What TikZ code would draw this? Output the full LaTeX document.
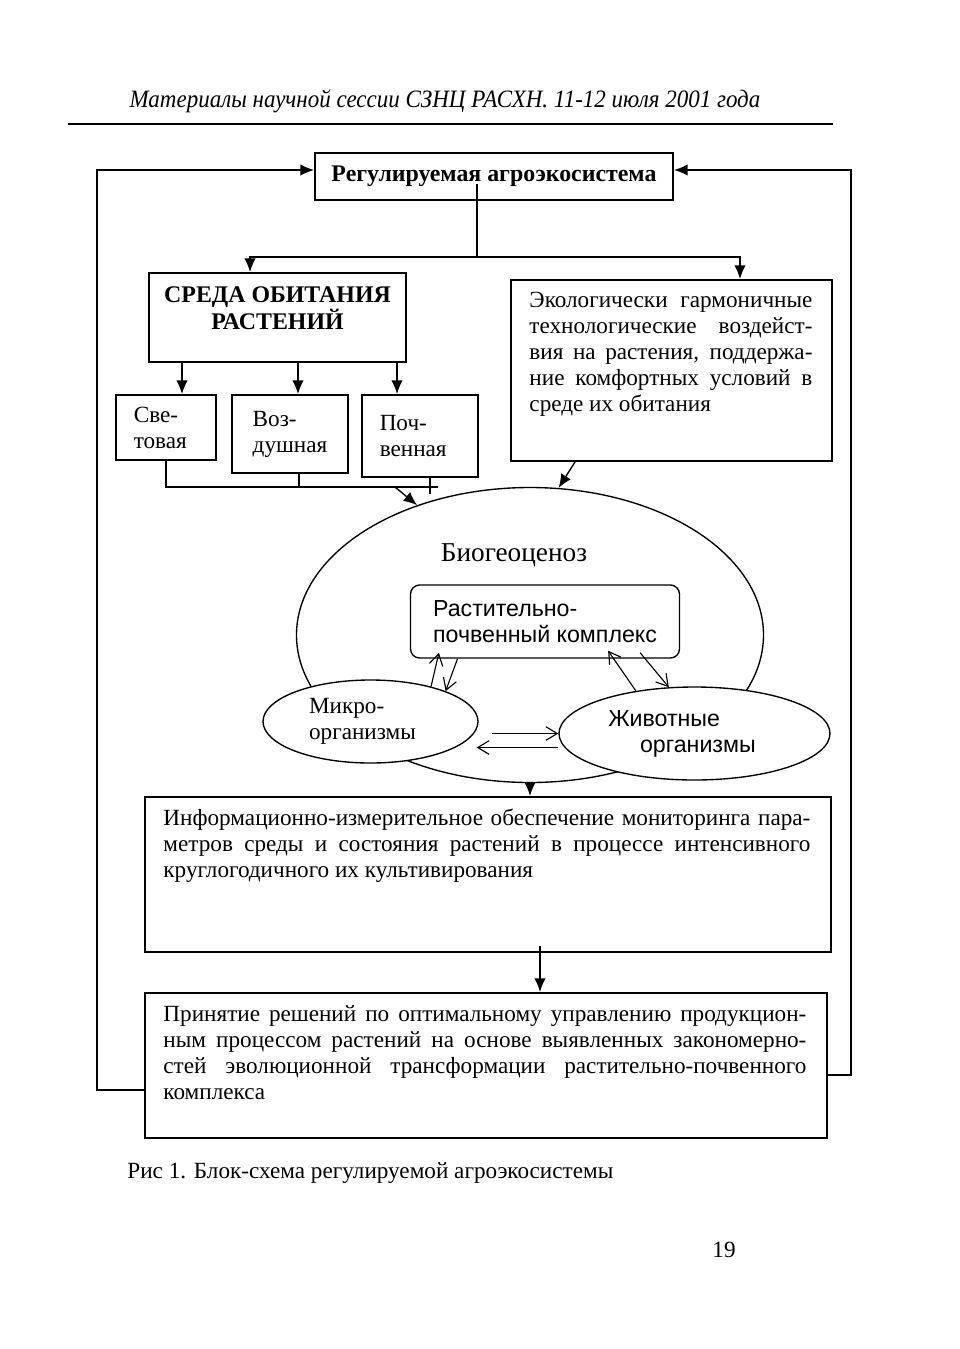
\documentclass[tikz,border=0pt]{standalone}
\usepackage{fontspec}
\usepackage{graphicx}
\setmainfont{Liberation Serif}
\newfontfamily\arialfont{Liberation Sans}
\usetikzlibrary{positioning,shapes.geometric,arrows.meta}

\newcommand{\basefont}{\fontsize{10.2}{11.44}\selectfont}

\tikzset{
  wh/.style 2 args={minimum width=#1*0.44pt,minimum height=#2*0.44pt},
  box/.style={draw,line width=0.9pt,inner sep=0pt,font=\basefont},
  txt/.style={anchor=base west,inner sep=0pt,align=justify,font=\basefont},
  oval/.style={draw,ellipse,line width=0.6pt,inner sep=0pt},
  arr/.style={line width=0.6pt,-{Latex[length=6pt,width=5pt]}},
  barb/.style={line width=0.5pt,-{Straight Barb[length=5pt,width=6pt]}},
}

\begin{document}
\begin{tikzpicture}[x=0.44pt,y=-0.44pt]
\useasboundingbox (0,0) rectangle (959,1349);

% page header
\node[font=\fontsize{11}{13}\selectfont\itshape] (head) at (445,101) {\scalebox{0.92}[1]{Материалы научной сессии СЗНЦ РАСХН. 11-12 июля 2001 года}};
\draw[line width=0.8pt] (68,124) -- (833,124);

% top of the scheme
\node[box,wh={358}{47},font=\fontsize{10.5}{12}\selectfont\bfseries] (agro) at (494,176.5) {Регулируемая агроэкосистема};
\node[box,wh={257}{89},align=center,font=\fontsize{10.5}{12}\selectfont\bfseries] (sreda) at (277.5,317.5) {СРЕДА ОБИТАНИЯ\\РАСТЕНИЙ\rule[-8pt]{0pt}{1pt}};
\node[box,wh={100}{65},align=left] (svet) at (166,427.5) {Све-\\товая\hspace*{5pt}};
\node[box,wh={116}{78},align=left] (vozd) at (290,434) {Воз-\\душная};
\node[box,wh={116}{82},align=left] (pochv) at (420,436) {Поч-\\венная\hspace*{6pt}};

\node[box,wh={321}{181}] (eco) at (671.5,370.5) {};
\node[txt,text width=283*0.44pt] (ecotext) at (529,307) {%
Экологически гармоничные\linebreak
технологические воздейст-\linebreak
вия на растения, поддержа-\linebreak
ние комфортных условий в\linebreak
среде их обитания};

% biogeocenosis
\node[oval,wh={467}{295}] (bio) at (530,635) {};
\node[font=\fontsize{12}{14}\selectfont] (biotext) at (514,555) {Биогеоценоз};
\node[draw,line width=0.6pt,rounded corners=4pt,wh={269}{73},inner sep=0pt,align=left,font=\arialfont\fontsize{10.2}{11.44}\selectfont] (rast) at (545,621.5) {Растительно-\\почвенный комплекс};
\node[oval,fill=white,wh={215}{83},align=left,font=\basefont] (micro) at (370.5,721.5) {Микро-\\организмы\hspace*{7pt}};
\node[oval,fill=white,wh={271}{93},align=left,font=\arialfont\fontsize{10.2}{11.44}\selectfont] (animal) at (694.5,733.5) {Животные\\\hspace*{14pt}организмы\hspace*{11pt}};

% lower boxes
\node[box,wh={686}{155}] (info) at (488,874.5) {};
\node[txt,text width=647*0.44pt] (infotext) at (163,825) {%
Информационно-измерительное обеспечение мониторинга пара-\linebreak
метров среды и состояния растений в процессе интенсивного\linebreak
круглогодичного их культивирования};
\node[box,wh={682}{145}] (dec) at (486,1065.5) {};
\node[txt,text width=643*0.44pt] (dectext) at (163,1021) {%
Принятие решений по оптимальному управлению продукцион-\linebreak
ным процессом растений на основе выявленных закономерно-\linebreak
стей эволюционной трансформации растительно-почвенного\linebreak
комплекса};

\node[anchor=base west,inner sep=0pt,font=\basefont] (caption) at (127,1178) {Рис 1. Блок-схема регулируемой агроэкосистемы};
\node[font=\basefont] (pagenum) at (724,1250) {19};

% connectors at the top
\coordinate (split) at (477,257);
\coordinate (sredain) at (250,257);
\coordinate (ecoin) at (740,257);
\draw[line width=0.6pt] ([yshift=7.5pt]agro.south -| split) -- (split);
\draw[arr] (split) -- (sredain) -- (sredain |- sreda.north);
\draw[arr] (split) -- (ecoin) -- (ecoin |- eco.north);
\foreach \x/\n in {182/svet,298/vozd,397/pochv}{
  \coordinate (in\n) at (\x,395);
  \draw[arr] (sreda.south -| in\n) -- (in\n |- \n.north);
}

% the three media into the biogeocenosis
\coordinate (bus) at (438,487);
\coordinate (tv) at (299,487);
\coordinate (tp) at (430,494);
\coordinate (bend) at (395,487);
\draw[line width=0.6pt] (svet.south) |- (bus);
\draw[line width=0.6pt] (tv |- vozd.south) -- (tv);
\draw[line width=0.6pt] (tp |- pochv.south) -- (tp);
\draw[arr] (bend) -- (bio.131);
\coordinate (eo) at (575,461);
\draw[arr] (eo |- eco.south) -- (bio.79);

% links inside the biogeocenosis
\draw[barb] (micro.30) -- ([xshift=12.8pt,yshift=2.6pt]rast.south west);
\draw[barb] ([xshift=21pt]rast.south west) -- (micro.22);
\draw[barb] (animal.144) -- ([xshift=-31.7pt,yshift=3.5pt]rast.south east);
\draw[barb] ([xshift=-17.6pt,yshift=2.6pt]rast.south east) -- (animal.119);
\draw[barb] ([shift={(13,12)}]micro.east) -- (animal.west);
\draw[barb] ([shift={(0,14)}]animal.west) -- ([shift={(-2,26)}]micro.east);

% down the scheme
\draw[arr] (bio.south) -- (bio.south |- info.north);
\coordinate (dd) at (540,975);
\draw[arr] ([yshift=3pt]info.south -| dd) -- (dd |- dec.north);

% feedback loops
\coordinate (fl) at (97,1090);
\coordinate (flt) at (97,170);
\draw[arr] (fl -| dec.west) -- (fl) -- (flt) -- (flt -| agro.west);
\coordinate (fr) at (851,1075);
\coordinate (frt) at (851,170);
\draw[arr] (fr -| dec.east) -- (fr) -- (frt) -- (frt -| agro.east);
\end{tikzpicture}
\end{document}
